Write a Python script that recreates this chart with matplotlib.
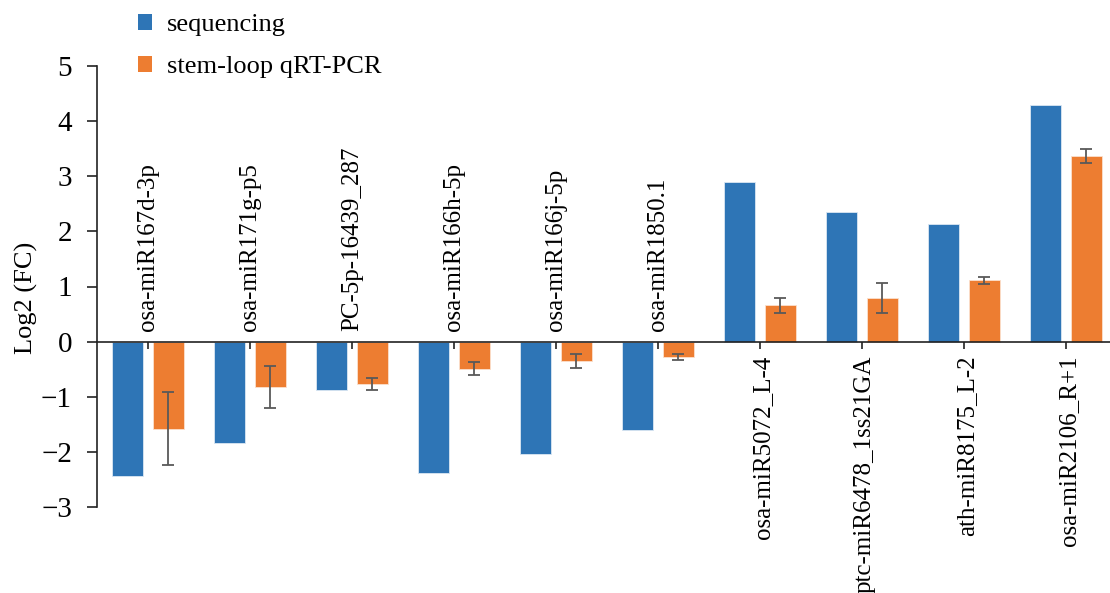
import matplotlib
matplotlib.use("Agg")
import matplotlib.pyplot as plt
from matplotlib.patches import Patch
import numpy as np

plt.rcParams['font.family'] = ['Liberation Serif', 'DejaVu Serif']

categories = [
    "osa-miR167d-3p", "osa-miR171g-p5", "PC-5p-16439_287", "osa-miR166h-5p",
    "osa-miR166j-5p", "osa-miR1850.1", "osa-miR5072_L-4", "ptc-miR6478_1ss21GA",
    "ath-miR8175_L-2", "osa-miR2106_R+1",
]
sequencing = [-2.44, -1.83, -0.87, -2.38, -2.04, -1.61, 2.90, 2.35, 2.13, 4.30]
qrtpcr = [-1.58, -0.83, -0.77, -0.49, -0.35, -0.28, 0.66, 0.79, 1.11, 3.37]
qrtpcr_err = [0.66, 0.38, 0.115, 0.12, 0.12, 0.05, 0.14, 0.27, 0.06, 0.125]
series_names = ["sequencing", "stem-loop qRT-PCR"]
yticks = [-3, -2, -1, 0, 1, 2, 3, 4, 5]

blue = "#2E75B6"
orange = "#ED7D31"
err_color = "#595959"

W, H = 1110, 593
fig = plt.figure(figsize=(W / 100, H / 100), dpi=100)
ax = fig.add_axes([97 / W, (H - 507) / H, 1020 / W, 441 / H])

x = np.arange(len(categories))
bw = 0.31
off = 0.2
ax.bar(x - off, sequencing, bw, color=blue, edgecolor="#dbe7f3", linewidth=0.6, zorder=2)
ax.bar(x + off, qrtpcr, bw, color=orange, edgecolor="#fbe0cd", linewidth=0.6, zorder=2)
ax.errorbar(x + off, qrtpcr, yerr=qrtpcr_err, fmt="none", ecolor=err_color,
            elinewidth=1.3, capsize=4.5, capthick=1.3, zorder=3)

ax.set_xlim(-0.5, len(categories) - 0.5)
ax.set_ylim(-3, 5)
ax.set_yticks(yticks)
ax.set_yticklabels([f"\u2212{abs(v)}" if v < 0 else str(v) for v in yticks])

for s in ["top", "right"]:
    ax.spines[s].set_visible(False)
ax.spines["bottom"].set_position(("data", 0))
ax.spines["bottom"].set_color("#222222")
ax.spines["left"].set_color("#222222")
ax.spines["bottom"].set_linewidth(1.2)
ax.spines["left"].set_linewidth(1.2)

ax.set_xticks(x)
ax.set_xticklabels([])
ax.tick_params(axis="x", direction="out", length=5, width=1.2, color="#222222")
ax.tick_params(axis="y", direction="out", length=7, width=1.2, color="#222222",
               labelsize=21, pad=11)

for xi, name, v in zip(x, categories, sequencing):
    if v < 0:
        ax.text(xi, 0.2, name, rotation=90, ha="center", va="bottom", fontsize=18)
    else:
        ax.text(xi + 0.03, -0.25, name, rotation=90, ha="center", va="top", fontsize=18,
                clip_on=False)

ax.set_ylabel("Log2 (FC)", fontsize=19)
ax.yaxis.set_label_coords(-0.058, 0.475)

handles = [Patch(facecolor=blue, edgecolor="none"), Patch(facecolor=orange, edgecolor="none")]
fig.legend(handles, series_names, loc="upper left", bbox_to_anchor=(122 / W, 1.003),
           frameon=False, fontsize=19, handlelength=0.55, handleheight=0.55,
           handletextpad=0.55, labelspacing=0.75, borderaxespad=0.2)

fig.savefig("out.png", dpi=100)
